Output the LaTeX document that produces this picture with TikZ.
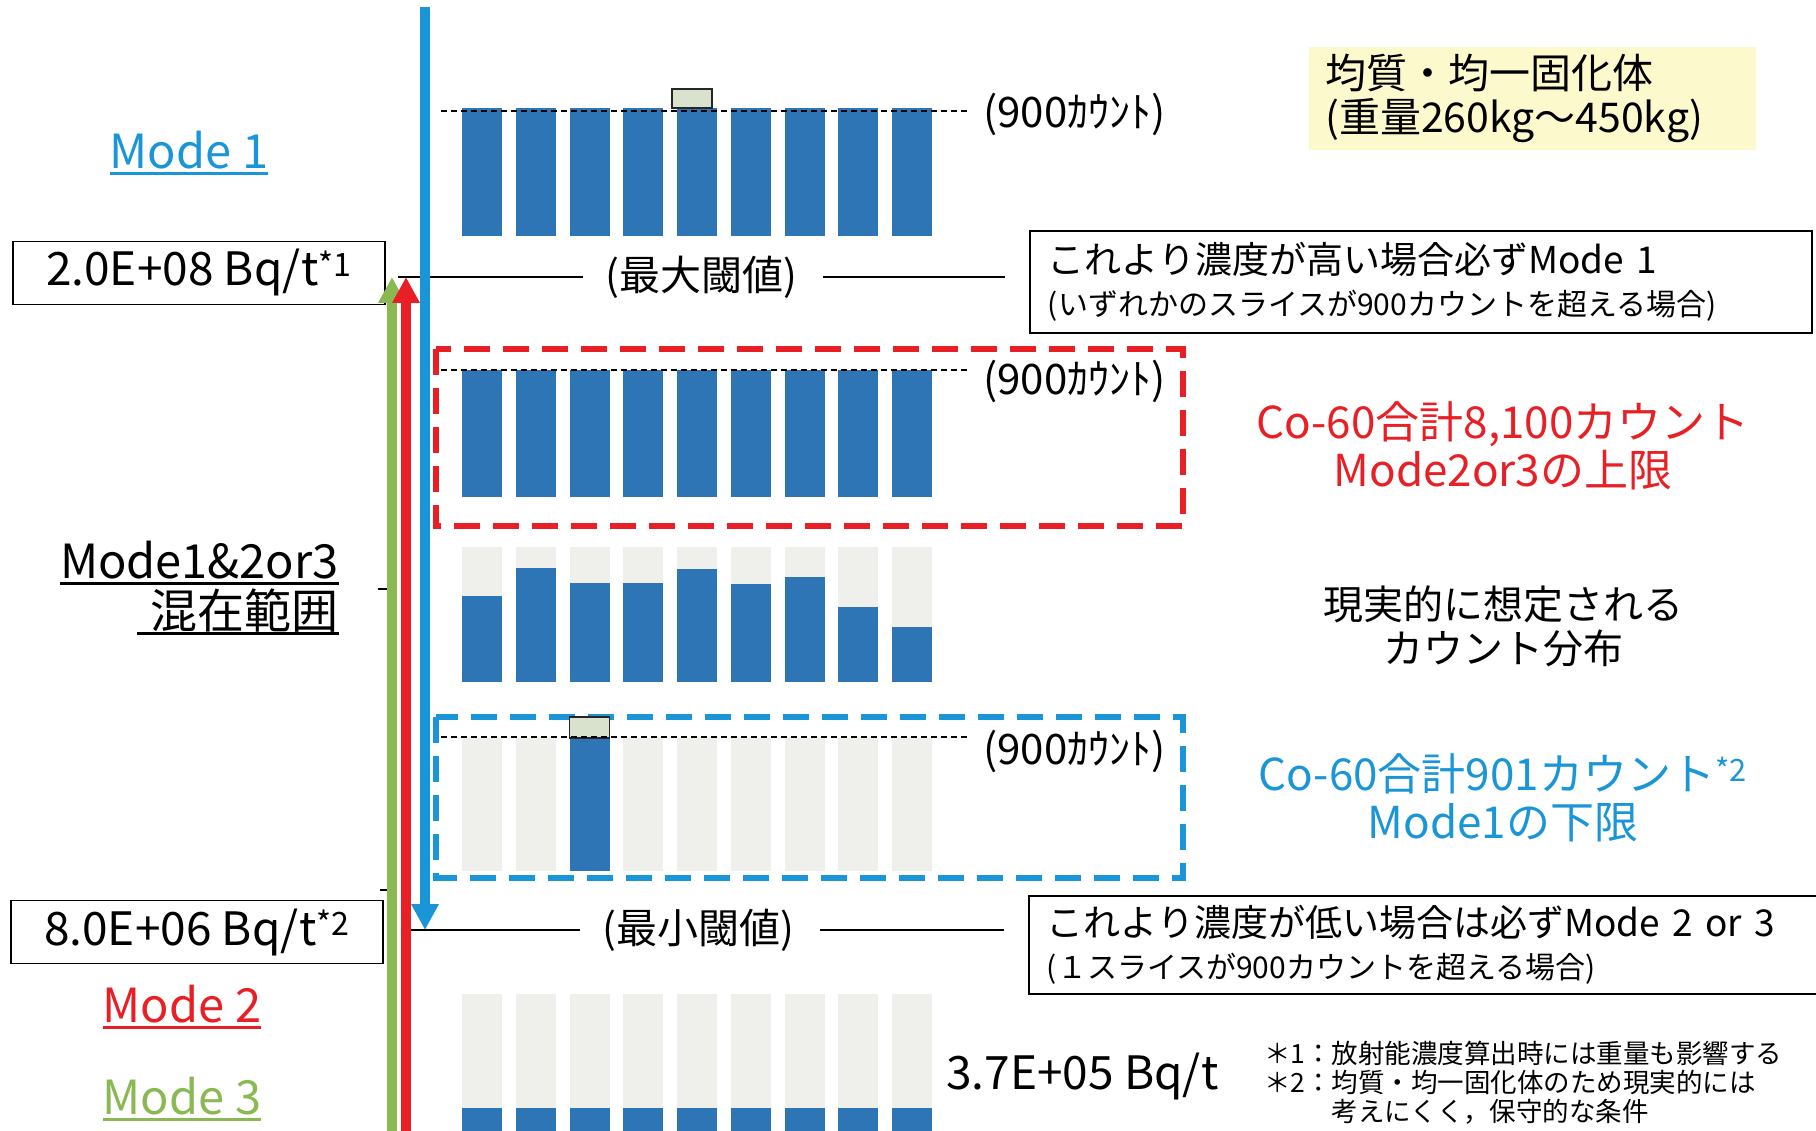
\documentclass[tikz,border=0pt]{standalone}
\usepackage{fontspec}
\setmainfont{Noto Sans CJK JP}
\usetikzlibrary{arrows.meta, positioning, calc}

\definecolor{barblue}{RGB}{46,117,182}
\definecolor{slotgray}{RGB}{239,239,236}
\definecolor{modeblue}{RGB}{26,150,216}
\definecolor{modered}{RGB}{232,32,38}
\definecolor{modegreen}{RGB}{138,184,82}
\definecolor{notebg}{RGB}{252,250,204}
\definecolor{capfill}{RGB}{216,226,204}

\newcommand{\ulmode}[1]{\setbox0\hbox{#1}\leavevmode\rlap{\rule[-7pt]{\wd0}{3pt}}\box0}

\tikzset{
  bar/.style={fill=barblue, draw=none},
  slot/.style={fill=slotgray, draw=none},
  capbox/.style={draw=black!85, line width=1.5pt, fill=capfill},
  limit/.style={draw=black, dash pattern=on 6pt off 4pt, line width=1.6pt},
  thrline/.style={draw=black, line width=1.8pt},
  valbox/.style={draw=black, line width=1.8pt, minimum width=372pt, minimum height=63pt, inner sep=0pt, font=\fontsize{46}{50}\selectfont},
  notebox/.style={draw=black, line width=1.8pt, anchor=north west, align=left, inner xsep=18pt, inner ysep=0pt, font=\fontsize{37}{42}\selectfont},
  thr/.style={font=\fontsize{41}{48}\selectfont, inner sep=0pt},
  cnt/.style={anchor=west, inner sep=0pt, font=\fontsize{42}{46}\selectfont},
  modelabel/.style={inner sep=0pt, font=\fontsize{47}{50}\selectfont},
  remark/.style={align=center, inner sep=0pt, font=\fontsize{44}{48}\selectfont},
  rangebox/.style={dash pattern=on 26pt off 13pt, line width=6pt},
  modearrow/.style={line width=10pt, -{Triangle[width=26pt,length=26pt]}},
}

\begin{document}
\begin{tikzpicture}[x=1pt, y=-1pt]
\useasboundingbox (0,0) rectangle (1816,1131);

% slices, row 1 (Mode 1)
\foreach \i in {0,...,8}
  \fill[bar] ({462+53.75*\i},108) rectangle ++(40,128);

% slices, row 2 (upper limit)
\foreach \i in {0,...,8}
  \fill[bar] ({462+53.75*\i},370) rectangle ++(40,127);

% slices, row 3 (realistic)
\foreach \i/\h in {0/596,1/568,2/583,3/583,4/569,5/584,6/577,7/607,8/627} {
  \fill[slot] ({462+53.75*\i},547) rectangle ++(40,135);
  \fill[bar] ({462+53.75*\i},\h) rectangle ({502+53.75*\i},682);
}

% slices, row 4 (lower limit)
\foreach \i in {0,...,8}
  \fill[slot] ({462+53.75*\i},738) rectangle ++(40,133);
\fill[bar] (569.5,738) rectangle ++(40,133);

% slices, row 5
\foreach \i in {0,...,8} {
  \fill[slot] ({462+53.75*\i},994) rectangle ++(40,137);
  \fill[bar] ({462+53.75*\i},1108) rectangle ++(40,23);
}

% range boxes
\draw[rangebox, modered] (436,349) rectangle (1183,526);
\draw[rangebox, modeblue] (436,717) rectangle (1183,878);

\filldraw[capbox] (672,89) rectangle (712,108);
\filldraw[capbox] (569.5,717) rectangle (609.5,738);

% 900 count limits
\coordinate (lim1) at (441,111);
\coordinate (lim2) at (441,370);
\coordinate (lim4) at (441,737);
\node[cnt] (cnt1) at (983,114) {(900ｶｳﾝﾄ)};
\node[cnt] (cnt2) at (983,381) {(900ｶｳﾝﾄ)};
\node[cnt] (cnt4) at (983,751) {(900ｶｳﾝﾄ)};
\draw[limit, shorten >=16pt] (lim1) -- (lim1 -| cnt1.west);
\draw[limit, shorten >=16pt] (lim2) -- (lim2 -| cnt2.west);
\draw[limit, shorten >=16pt] (lim4) -- (lim4 -| cnt4.west);

% thresholds
\node[valbox] (vmax) at (199,273) {2.0E+08 Bq/t\textsuperscript{*1}};
\node[thr] (tmax) at (701,277) {(最大閾値)};
\node[notebox, text width=746pt, minimum height=102pt] (nmax) at (1029,230)
  {これより濃度が高い場合必ずMode 1\\{\fontsize{30}{34}\selectfont (いずれかのスライスが900カウントを超える場合)}};
\draw[thrline, shorten <=22pt, shorten >=12pt] (tmax.west) -- (tmax.west -| vmax.east);
\draw[thrline, shorten <=26pt, shorten >=24pt] (tmax.east) -- (tmax.east -| nmax.west);

\node[valbox] (vmin) at (197,932) {8.0E+06 Bq/t\textsuperscript{*2}};
\node[thr] (tmin) at (698,930) {(最小閾値)};
\node[notebox, text width=764pt, minimum height=98pt] (nmin) at (1028,895)
  {これより濃度が低い場合は必ずMode 2 or 3\\{\fontsize{30}{34}\selectfont (１スライスが900カウントを超える場合)}};
\draw[thrline, shorten <=22pt, shorten >=18pt] (tmin.west) -- (tmin.west -| vmin.east);
\draw[thrline, shorten <=26pt, shorten >=24pt] (tmin.east) -- (tmin.east -| nmin.west);

\draw[thrline] (378,589) -- (387,589);
\draw[thrline] (380,890) -- (392,890);

% mode arrows
\coordinate (gbot) at (392,1131);
\coordinate (rbot) at (406,1131);
\coordinate (btop) at (425,7);
\draw[modearrow, modegreen] (gbot) -- (gbot |- tmax.west);
\draw[modearrow, modered] (rbot) -- (rbot |- tmax.west);
\draw[modearrow, modeblue] (btop) -- (btop |- tmin.west);

% mode labels
\node[modelabel, text=modeblue] (m1) at (189,153) {\ulmode{Mode 1}};
\node[modelabel, align=right, anchor=east] (mix) at (339,588)
  {\ulmode{Mode1\&2or3}\\\ulmode{\hspace{14pt}混在範囲}};
\node[modelabel, text=modered] (m2) at (182,1007) {\ulmode{Mode 2}};
\node[modelabel, text=modegreen] (m3) at (182,1099) {\ulmode{Mode 3}};

% remarks
\node[fill=notebg, anchor=north west, text width=415pt, minimum height=103pt, inner xsep=16pt,
  align=left, font=\fontsize{41}{44}\selectfont] (solid) at (1309,47) {均質・均一固化体\\(重量260kg～450kg)};
\node[remark, text=modered] (upper) at (1503,446) {Co-60合計8,100カウント\\Mode2or3の上限};
\node[remark, font=\fontsize{40}{44}\selectfont] (real) at (1503,626) {現実的に想定される\\カウント分布};
\node[remark, text=modeblue] (lower) at (1503,798) {Co-60合計901カウント\textsuperscript{*2}\\Mode1の下限};

\node[anchor=west, inner sep=0pt, font=\fontsize{46}{50}\selectfont] (low) at (946,1076) {3.7E+05 Bq/t};
\node[anchor=north west, align=left, inner sep=0pt, font=\fontsize{26.5}{29}\selectfont] (foot) at (1264,1041)
  {＊1：放射能濃度算出時には重量も影響する\\＊2：均質・均一固化体のため現実的には\\\hphantom{＊2：}考えにくく，保守的な条件};
\end{tikzpicture}
\end{document}
